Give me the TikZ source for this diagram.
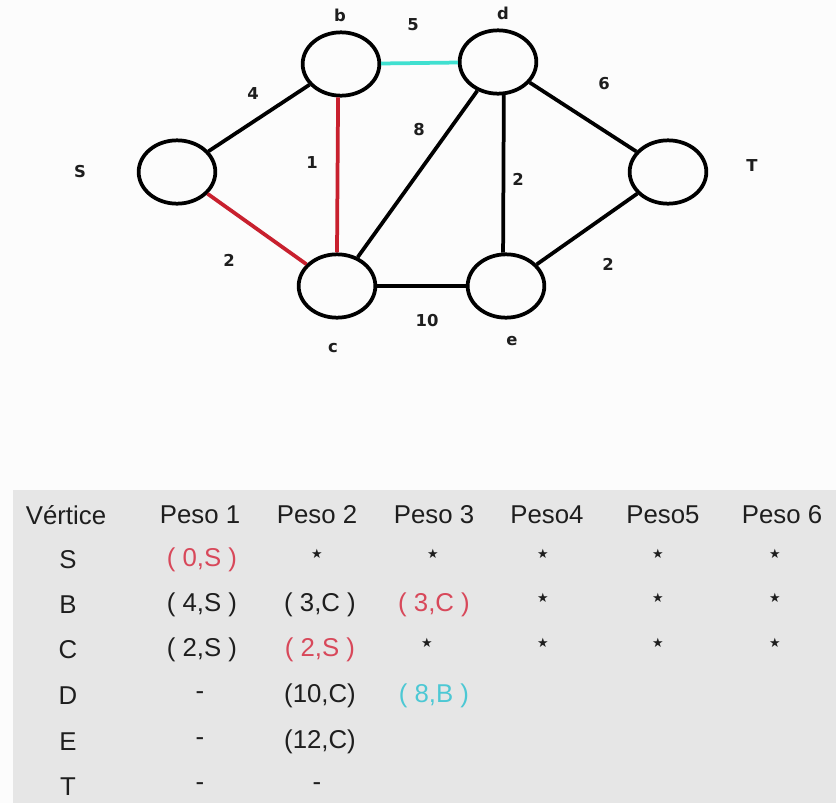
\documentclass[tikz,border=0pt]{standalone}
\usepackage{fontspec}
\setmainfont{Liberation Sans}
\newfontfamily\labelfont{DejaVu Sans}
\usetikzlibrary{shapes.geometric, positioning}
\definecolor{pathred}{HTML}{C8202E}
\definecolor{pathcyan}{HTML}{40E0D0}
\definecolor{textred}{HTML}{D8485A}
\definecolor{textcyan}{HTML}{4CC8D4}
\definecolor{tablegray}{HTML}{E6E6E6}
\definecolor{pagewhite}{HTML}{FCFCFC}
\definecolor{darktext}{HTML}{1E1E1E}

\begin{document}
\begin{tikzpicture}[x=0.03cm, y=-0.03cm,
    vertex/.style={ellipse, draw=black, line width=3.2pt, minimum width=2.3cm, minimum height=1.9cm, inner sep=0pt},
    edge/.style={line width=3.2pt},
    vname/.style={font=\labelfont\bfseries\fontsize{14}{14}\selectfont, text=darktext},
    weight/.style={font=\labelfont\bfseries\fontsize{14}{14}\selectfont, text=darktext},
    cell/.style={font=\fontsize{22}{22}\selectfont, text=darktext},
    starcell/.style={font=\labelfont\fontsize{11}{11}\selectfont, text=darktext}
]

% Background
\fill[pagewhite] (0,0) rectangle (836,803);
\useasboundingbox (0,0) rectangle (836,803);
\fill[tablegray] (13,490) rectangle (836,803);

% Vertices
\node[vertex] (s) at (177,172) {};
\node[vertex] (b) at (341,64) {};
\node[vertex] (c) at (337,286) {};
\node[vertex] (d) at (498,62) {};
\node[vertex] (e) at (506,286) {};
\node[vertex] (t) at (668,172) {};

% Vertex names
\node[vname] (sname) at (80,172) {S};
\node[vname] (bname) at (340,15) {b};
\node[vname] (cname) at (333,348) {c};
\node[vname] (dname) at (503,13) {d};
\node[vname] (ename) at (512,341) {e};
\node[vname] (tname) at (752,166) {T};

% Edges
\draw[edge] (s) -- (b);
\draw[edge, pathred] (s) -- (c);
\draw[edge, pathred] (b.-95) -- (c.90);
\draw[edge, pathcyan] (b) -- (d);
\draw[edge] (c) -- (d);
\draw[edge] (d.-80) -- (e.95);
\draw[edge] (d) -- (t);
\draw[edge] (c) -- (e);
\draw[edge] (e) -- (t);

% Weights
\node[weight] (wsb) at (253,94) {4};
\node[weight] (wbd) at (413,25) {5};
\node[weight] (wbc) at (312,163) {1};
\node[weight] (wcd) at (419,130) {8};
\node[weight] (wdt) at (604,84) {6};
\node[weight] (wsc) at (229,260) {2};
\node[weight] (wde) at (518,179) {2};
\node[weight] (wet) at (608,264) {2};
\node[weight] (wce) at (427,321) {10};

% Table header
\node[cell] (hvert) at (66,515) {Vértice};
\node[cell] (hp1) at (200,515) {Peso 1};
\node[cell] (hp2) at (317,515) {Peso 2};
\node[cell] (hp3) at (434,515) {Peso 3};
\node[cell] (hp4) at (547,515) {Peso4};
\node[cell] (hp5) at (663,515) {Peso5};
\node[cell] (hp6) at (782,515) {Peso 6};

% Row S
\node[cell] (rs) at (68,560) {S};
\node[cell, text=textred] (rs1) at (202,560) {( 0,S )};
\node[starcell] (rs2) at (317,554) {★};
\node[starcell] (rs3) at (433,554) {★};
\node[starcell] (rs4) at (543,554) {★};
\node[starcell] (rs5) at (658,554) {★};
\node[starcell] (rs6) at (775,554) {★};

% Row B
\node[cell] (rb) at (68,605) {B};
\node[cell] (rb1) at (202,605) {( 4,S )};
\node[cell] (rb2) at (320,605) {( 3,C )};
\node[cell, text=textred] (rb3) at (434,605) {( 3,C )};
\node[starcell] (rb4) at (543,598) {★};
\node[starcell] (rb5) at (658,598) {★};
\node[starcell] (rb6) at (775,598) {★};

% Row C
\node[cell] (rc) at (68,650) {C};
\node[cell] (rc1) at (202,650) {( 2,S )};
\node[cell, text=textred] (rc2) at (320,650) {( 2,S )};
\node[starcell] (rc3) at (427,643) {★};
\node[starcell] (rc4) at (543,643) {★};
\node[starcell] (rc5) at (658,643) {★};
\node[starcell] (rc6) at (775,643) {★};

% Row D
\node[cell] (rd) at (68,696) {D};
\node[cell] (rd1) at (200,696) {-};
\node[cell] (rd2) at (320,696) {(10,C)};
\node[cell, text=textcyan] (rd3) at (434,696) {( 8,B )};

% Row E
\node[cell] (re) at (68,742) {E};
\node[cell] (re1) at (200,742) {-};
\node[cell] (re2) at (320,742) {(12,C)};

% Row T
\node[cell] (rt) at (68,787) {T};
\node[cell] (rt1) at (200,787) {-};
\node[cell] (rt2) at (317,787) {-};

\end{tikzpicture}
\end{document}
